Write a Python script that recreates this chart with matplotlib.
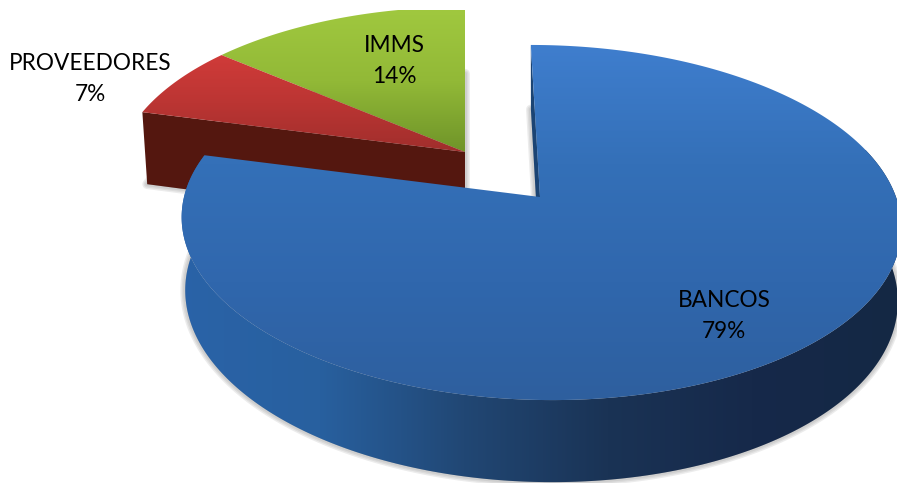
import matplotlib
matplotlib.use('Agg')
import matplotlib.pyplot as plt
import numpy as np
from matplotlib.colors import LinearSegmentedColormap
from matplotlib.patches import Polygon

# Datos
categorias = ['BANCOS', 'PROVEEDORES', 'IMMS']
valores = [79, 7, 14]

W, H = 897, 483
plt.rcParams['font.family'] = ['Lato', 'DejaVu Sans']

fig = plt.figure(figsize=(W / 100, H / 100), dpi=100)
ax = fig.add_axes([0, 0, 1, 1])


def proyectar(ang, cx, cy, a, b, k=0.1437, shear=0.0, r=1.0, caida=0.0, d=72, enc=1.0):
    # circulo del pastel a pixeles, con perspectiva (lo cercano se ve mas grande)
    u = r * np.cos(ang)
    v = r * np.sin(ang)
    w = 1 + k * v
    x = cx + enc * (a * u + shear * v) / w
    y = cy - enc * b * v / w + caida * d / w
    return np.column_stack([x, y])


def gradiente(poly, colores, horizontal=False, extent=None, zorder=1):
    cmap = LinearSegmentedColormap.from_list('g', colores)
    g = np.linspace(0, 1, 256)
    g = g[None, :] if horizontal else g[:, None]
    im = ax.imshow(g, cmap=cmap, extent=extent, aspect='auto', zorder=zorder,
                   interpolation='bilinear')
    p = Polygon(poly, closed=True, transform=ax.transData, fc='none', ec='none')
    ax.add_patch(p)
    im.set_clip_path(p)


def sombra(poly, zorder=0.5):
    for lw in [7, 5, 3]:
        ax.add_patch(Polygon(poly, closed=True, fc='#8a8a8a', ec='#8a8a8a', lw=lw,
                             alpha=0.16, zorder=zorder, joinstyle='round'))


fracs = np.array(valores) / sum(valores) * 2 * np.pi

# Rebanadas separadas: IMMS y PROVEEDORES
sep = dict(cx=465, cy=152, a=345, b=166, d=74)
ini_imms = np.pi / 2
fin_imms = ini_imms + fracs[2]
fin_prov = fin_imms + fracs[1]

arco_imms = np.linspace(ini_imms, fin_imms, 80)
arco_prov = np.linspace(fin_imms, fin_prov, 50)
arco_sep = np.linspace(ini_imms, fin_prov, 120)
centro_sep = proyectar(0, r=0, **sep)

fondo_sep = np.vstack([proyectar(0, r=0, caida=1, enc=0.985, **sep),
                       proyectar(arco_sep, caida=1, enc=0.985, **sep)])
sombra(fondo_sep)

# pared roja (frente de la rebanada)
pared_roja = np.vstack([proyectar(fin_prov, caida=0, **sep),
                        centro_sep,
                        proyectar(0, r=0, caida=1, enc=0.985, **sep),
                        proyectar(fin_prov, caida=1, enc=0.985, **sep)])
ax.add_patch(Polygon(pared_roja, closed=True, fc='#54170f', ec='none', zorder=1))

gradiente(np.vstack([centro_sep, proyectar(arco_imms, **sep)]),
          ['#a0c83f', '#92b937', '#6f9429'], extent=[130, 480, 152, 10], zorder=2)
gradiente(np.vstack([centro_sep, proyectar(arco_prov, **sep)]),
          ['#d03b39', '#bb3533', '#a02e2c'], extent=[130, 480, 152, 55], zorder=2)

# Rebanada grande: BANCOS
gran = dict(cx=540, cy=197, a=356, b=173.9, shear=-10.5, d=72)
ini_b = fin_prov
fin_b = ini_b + fracs[0]
arco_b = np.linspace(ini_b, fin_b, 400)
centro_b = proyectar(0, r=0, **gran)

fondo_b = np.vstack([proyectar(0, r=0, caida=1, enc=0.99, **gran),
                     proyectar(arco_b, caida=1, enc=0.99, **gran)])
sombra(fondo_b, zorder=3)

pared_ext = np.vstack([proyectar(arco_b, **gran),
                       proyectar(arco_b[::-1], caida=1, enc=0.99, **gran)])
gradiente(pared_ext, ['#2a63a8', '#28609f', '#214774', '#1a3355', '#16294a', '#142844'],
          horizontal=True, extent=[175, 897, 490, 150], zorder=4)

# cara del corte, se ve como tira oscura junto al borde
corte = np.vstack([proyectar(fin_b, **gran), centro_b,
                   proyectar(0, r=0, caida=1, enc=0.99, **gran),
                   proyectar(fin_b, caida=1, enc=0.99, **gran)])
ax.add_patch(Polygon(corte, closed=True, fc='#1b4474', ec='none', zorder=4))

gradiente(np.vstack([centro_b, proyectar(arco_b, **gran)]),
          ['#3f7ece', '#3470b8', '#3067ad', '#2e5f9e'], extent=[170, 900, 402, 44], zorder=5)

# Etiquetas
estilo = dict(ha='center', va='center', fontsize=16.3, color='black', zorder=6, linespacing=1.62)
ax.text(90, 79, f'{categorias[1]}\n{valores[1]}%', **estilo)
ax.text(394, 61, f'{categorias[2]}\n{valores[2]}%', **estilo)
ax.text(724, 316, f'{categorias[0]}\n{valores[0]}%', **estilo)

ax.set_xlim(0, W)
ax.set_ylim(H, 0)
ax.axis('off')

plt.savefig('out.png', dpi=100)
